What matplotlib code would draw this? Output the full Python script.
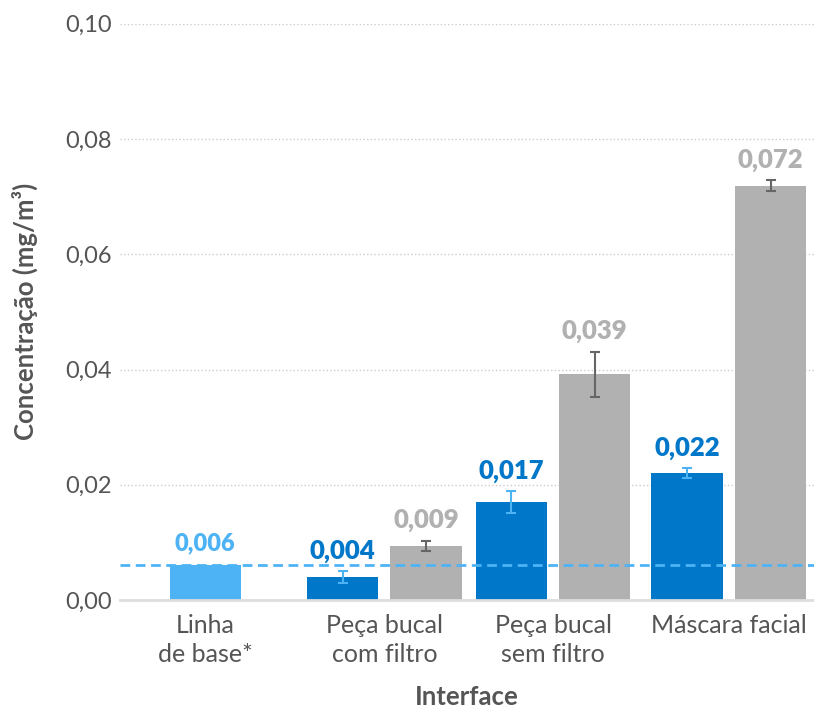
import numpy as np
import matplotlib
matplotlib.use('Agg')
import matplotlib.pyplot as plt

plt.rcParams['font.family'] = ['Lato', 'DejaVu Sans']

categories = ['Linha\nde base*', 'Peça bucal\ncom filtro', 'Peça bucal\nsem filtro', 'Máscara facial']
baseline_value = 0.006
blue_values = [0.004, 0.017, 0.022]
blue_errors = [0.001, 0.0019, 0.0009]
gray_values = [0.0094, 0.0392, 0.0719]
gray_errors = [0.0009, 0.0039, 0.001]
blue_labels = ['0,004', '0,017', '0,022']
gray_labels = ['0,009', '0,039', '0,072']
yticks = [0.0, 0.02, 0.04, 0.06, 0.08, 0.10]
ytick_labels = ['0,00', '0,02', '0,04', '0,06', '0,08', '0,10']

c_blue = '#0077c8'
c_light = '#4db3f5'
c_gray = '#b1b1b1'
c_text = '#555555'

fig = plt.figure(figsize=(8.14, 7.08), dpi=100)
ax = fig.add_axes([0.1474, 0.1525, 0.8526, 0.814])

centers = np.array([0.0, 1.03, 2.0, 3.01])
w = 0.41
off = 0.24

# baseline bar + dashed reference line
ax.bar(centers[0], baseline_value, w, color=c_light, zorder=2)
ax.axhline(baseline_value, color=c_light, lw=2, ls=(0, (3.5, 2)), zorder=4)
ax.annotate('0,006', (centers[0], baseline_value), xytext=(0, 8), textcoords='offset points',
            ha='center', va='bottom', fontsize=17, fontweight='heavy', color=c_light)

xb = centers[1:] - off
xg = centers[1:] + off
ax.bar(xb, blue_values, w, color=c_blue, zorder=2)
ax.bar(xg, gray_values, w, color=c_gray, zorder=2)
ax.errorbar(xb, blue_values, yerr=blue_errors, fmt='none', ecolor=c_light,
            elinewidth=1.5, capsize=3.3, capthick=1.5, zorder=3)
ax.errorbar(xg, gray_values, yerr=gray_errors, fmt='none', ecolor='#666666',
            elinewidth=1.5, capsize=3.3, capthick=1.5, zorder=3)

for x, v, e, lab in zip(xb, blue_values, blue_errors, blue_labels):
    ax.annotate(lab, (x, v + e), xytext=(0, 6), textcoords='offset points',
                ha='center', va='bottom', fontsize=18.5, fontweight='heavy', color=c_blue)
for x, v, e, lab in zip(xg, gray_values, gray_errors, gray_labels):
    ax.annotate(lab, (x, v + e), xytext=(0, 6), textcoords='offset points',
                ha='center', va='bottom', fontsize=18.5, fontweight='heavy', color=c_gray)

ax.set_xlim(-0.49, 3.5)
ax.set_ylim(0, 0.10)
ax.set_yticks(yticks)
ax.set_yticklabels(ytick_labels)
ax.set_xticks(centers)
ax.set_xticklabels(categories, linespacing=1.3)
ax.tick_params(length=0, labelcolor=c_text)
ax.tick_params(axis='x', pad=10, labelsize=18)
ax.tick_params(axis='y', pad=6, labelsize=17)

ax.grid(axis='y', color='#cccccc', ls=':', lw=1)
ax.set_axisbelow(True)
for s in ['top', 'right', 'left']:
    ax.spines[s].set_visible(False)
ax.spines['bottom'].set_color('#dddddd')
ax.spines['bottom'].set_linewidth(2)

ax.set_xlabel('Interface', fontsize=18.5, fontweight='bold', color=c_text)
ax.set_ylabel('Concentração (mg/m³)', fontsize=18.5, fontweight='bold', color=c_text)
ax.xaxis.set_label_coords(0.5, -0.168)
ax.yaxis.set_label_coords(-0.137, 0.5)
ax.xaxis.label.set_va('center')
ax.yaxis.label.set_va('center')

fig.savefig('out.png', dpi=100)
